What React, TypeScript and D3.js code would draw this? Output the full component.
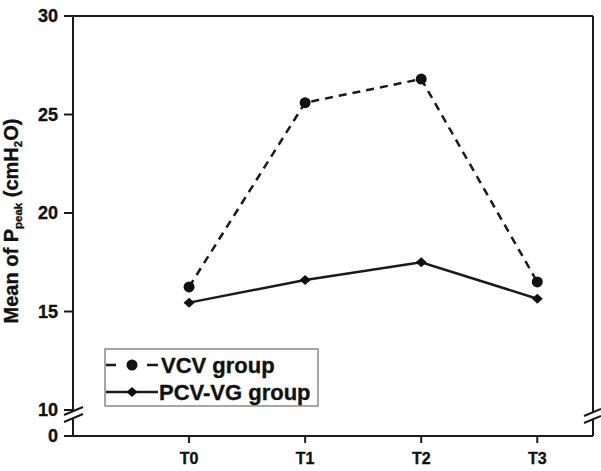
import React from 'react';
import * as d3 from 'd3';

const width = 601;
const height = 471;

// data
const times = ['T0', 'T1', 'T2', 'T3'];
const vcv = [16.25, 25.6, 26.8, 16.5];
const pcvvg = [15.45, 16.6, 17.5, 15.65];
const yTicks = [10, 15, 20, 25, 30];

const left = 73;
const right = 593;
const top = 16;
const bottom = 436;

const font = '"Liberation Sans", Arial, Helvetica, sans-serif';

const xScale = d3.scaleLinear().domain([-1, 3.48]).range([left, right]);
const yScale = d3.scaleLinear().domain([10, 30]).range([410, top]);

const diamond = (cx: number, cy: number, w = 5.5, h = 5) =>
  `M${cx},${cy - h}L${cx + w},${cy}L${cx},${cy + h}L${cx - w},${cy}Z`;

export default function App() {
  const line = d3
    .line<number>()
    .x((_, i) => xScale(i))
    .y((d) => yScale(d));

  const stroke = '#1a1a1a';
  const txt = { fontWeight: 'bold' as const, fill: '#111', stroke: '#111', strokeWidth: 0.35 };

  return (
    <svg
      width={width}
      height={height}
      style={{ position: 'absolute', left: 0, top: 0, background: '#fff' }}
      fontFamily={font}
    >
      {/* frame: top line and right axis */}
      <line x1={left} x2={right} y1={top} y2={top} stroke={stroke} strokeWidth={2} />
      <line x1={right} x2={right} y1={top} y2={412} stroke={stroke} strokeWidth={2} />
      <line x1={right} x2={right} y1={419} y2={bottom} stroke={stroke} strokeWidth={2} />
      {/* left axis with break */}
      <line x1={left} x2={left} y1={top} y2={411} stroke={stroke} strokeWidth={2} />
      <line x1={left} x2={left} y1={418} y2={bottom + 1} stroke={stroke} strokeWidth={2} />
      {/* bottom axis */}
      <line x1={left} x2={right} y1={bottom} y2={bottom} stroke={stroke} strokeWidth={2} />
      {/* break marks */}
      <line x1={64} y1={415} x2={83} y2={407} stroke={stroke} strokeWidth={2} />
      <line x1={64} y1={422} x2={83} y2={414} stroke={stroke} strokeWidth={2} />
      <line x1={584} y1={416} x2={601} y2={409} stroke={stroke} strokeWidth={2} />
      <line x1={584} y1={423} x2={601} y2={416} stroke={stroke} strokeWidth={2} />

      {/* y ticks */}
      {yTicks.map((t) => (
        <g key={t}>
          <line x1={left - 9} x2={left} y1={yScale(t)} y2={yScale(t)} stroke={stroke} strokeWidth={2} />
          <text x={58} y={yScale(t)} dy="0.36em" textAnchor="end" fontSize={18} {...txt}>
            {t}
          </text>
        </g>
      ))}
      <line x1={left - 9} x2={left} y1={bottom} y2={bottom} stroke={stroke} strokeWidth={2} />
      <text x={58} y={bottom} dy="0.36em" textAnchor="end" fontSize={18} {...txt}>
        0
      </text>

      {/* x ticks */}
      {times.map((t, i) => (
        <g key={t}>
          <line x1={xScale(i)} x2={xScale(i)} y1={bottom} y2={bottom + 7} stroke={stroke} strokeWidth={2} />
          <text x={xScale(i)} y={464} textAnchor="middle" fontSize={16} {...txt}>
            {t}
          </text>
        </g>
      ))}

      {/* y title */}
      <text transform="translate(18,221) rotate(-90)" textAnchor="middle" fontSize={20} {...txt}>
        Mean of P
        <tspan fontSize={11.5} dy={4}>peak</tspan>
        <tspan dy={-4}> (cmH</tspan>
        <tspan fontSize={11.5} dy={4}>2</tspan>
        <tspan dy={-4}>O)</tspan>
      </text>

      {/* series */}
      <path d={line(vcv) || ''} fill="none" stroke={stroke} strokeWidth={2.5} strokeDasharray="8,6" />
      <path d={line(pcvvg) || ''} fill="none" stroke={stroke} strokeWidth={2.5} />
      {vcv.map((v, i) => (
        <circle key={'c' + i} cx={xScale(i)} cy={yScale(v)} r={5.5} fill="#111" />
      ))}
      {pcvvg.map((v, i) => (
        <path key={'d' + i} d={diamond(xScale(i), yScale(v))} fill="#111" />
      ))}

      {/* legend */}
      <rect x={105} y={349} width={213} height={57} fill="#fff" stroke="#8a8a8a" strokeWidth={1.5} />
      <line x1={106} x2={116} y1={365} y2={365} stroke={stroke} strokeWidth={2.5} />
      <line x1={147} x2={158} y1={365} y2={365} stroke={stroke} strokeWidth={2.5} />
      <circle cx={132} cy={365} r={5.5} fill="#111" />
      <text x={161} y={365} dy="0.36em" fontSize={22} {...txt}>
        VCV group
      </text>
      <line x1={106} x2={158} y1={392} y2={392} stroke={stroke} strokeWidth={2.5} />
      <path d={diamond(132, 392)} fill="#111" />
      <text x={159} y={392} dy="0.36em" fontSize={22} {...txt}>
        PCV-VG group
      </text>
    </svg>
  );
}
